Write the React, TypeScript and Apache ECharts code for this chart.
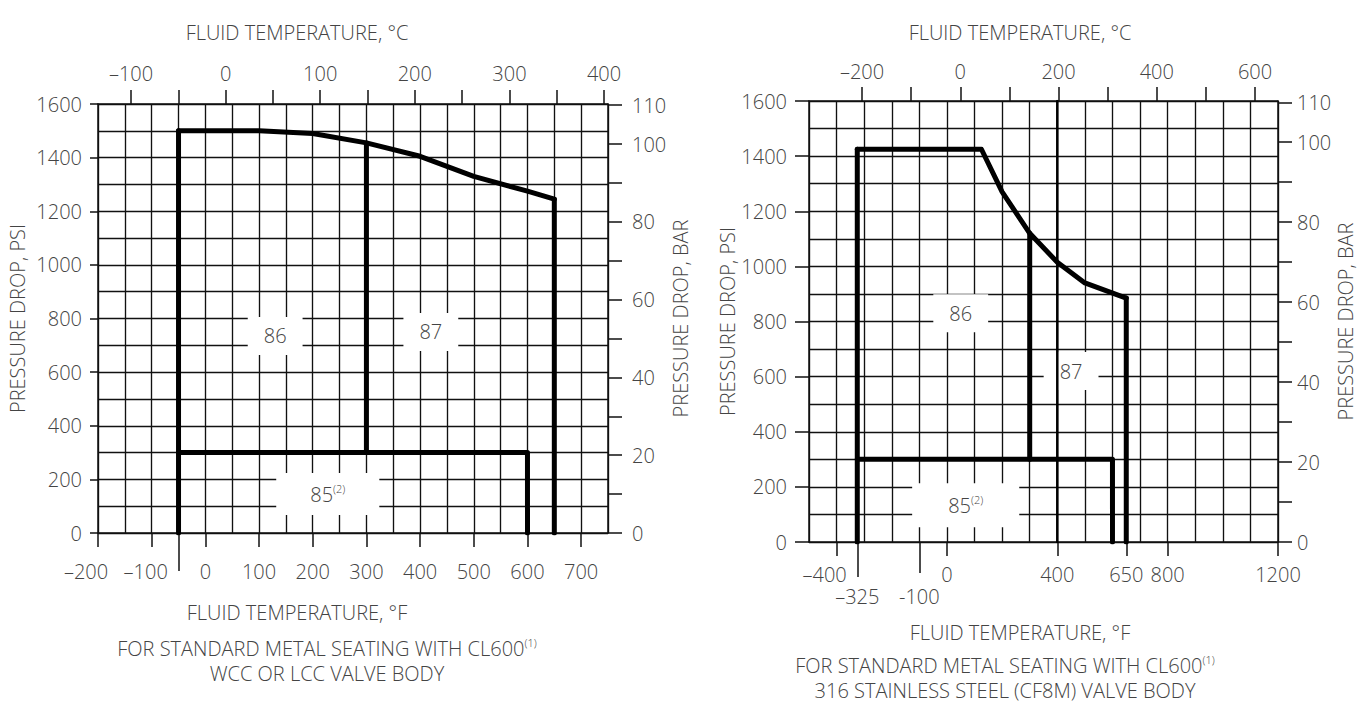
import React, { useEffect, useRef } from 'react';
import * as echarts from 'echarts';

// ---------- shared ----------
const PSI_PER_BAR = 14.5038;
const PSI_MAX = 1600;
const barTicks = [0, 10, 20, 30, 40, 50, 60, 70, 80, 90, 100, 110];
const barLabels = [0, 20, 40, 60, 80, 100, 110];

// ---------- left chart: WCC / LCC body ----------
const wccFMin = -200;
const wccFMax = 750;
const wccCMin = -134.9; // top °C scale as drawn
const wccCMax = 404.2;
const wccFTicks = [-200, -100, 0, 100, 200, 300, 400, 500, 600, 700];
const wccFLongTicks = [-50];
const wccCTicks = [-100, -50, 0, 50, 100, 150, 200, 250, 300, 350, 400];
const wccCLabels = [-100, 0, 100, 200, 300, 400];
const wccCurve = [[-50, 1500], [100, 1500], [200, 1490], [300, 1455], [400, 1405], [500, 1330], [600, 1275], [650, 1245]];
const wccLowLimit = [[-50, 0], [-50, 1500]];
const wccSeatLine = [[-50, 300], [600, 300], [600, 0]];
const wccDivider = [[300, 300], [300, 1455]];
const wccHighLimit = [[650, 1245], [650, 0]];
const wccZones: [string, number, number][] = [['86', 130, 735], ['87', 420, 750], ['85', 228, 145]];

// ---------- right chart: CF8M body ----------
const cf8mFMin = -500;
const cf8mFMax = 1200;
const cf8mCMin = -307.9;
const cf8mCMax = 646.8;
const cf8mFTicks = [-400, 0, 400, 650, 800, 1200];
const cf8mLongTickA = [-325];
const cf8mLongTickB = [-100];
const cf8mCTicks = [-200, -100, 0, 100, 200, 300, 400, 500, 600];
const cf8mCLabels = [-200, 0, 200, 400, 600];
const cf8mCurve = [[-325, 1425], [125, 1425], [200, 1270], [300, 1120], [400, 1015], [500, 940], [650, 885]];
const cf8mLowLimit = [[-325, 0], [-325, 1425]];
const cf8mSeatLine = [[-325, 300], [600, 300], [600, 0]];
const cf8mDivider = [[300, 300], [300, 1120]];
const cf8mHighLimit = [[650, 885], [650, 0]];
const cf8mMarker = [[400, 0], [400, 1600]];
const cf8mZones: [string, number, number][] = [['86', 50, 830], ['87', 450, 620], ['85', 68, 133]];

const FONT = '"Open Sans", "Noto Sans", sans-serif';
const TEXT = '#444';
const LINE = '#111';
const FS = 20;

const dash = (v: number) => (v < 0 ? '\u2013' + Math.abs(v) : String(v));
const hyphen = (v: number) => String(v);
// negative bottom labels sit a little left of their ticks in the drawing
const shifted = (v: number) => (v <= -200 ? '{l|' + dash(v) + '}' : v < 0 ? '{m|' + dash(v) + '}' : dash(v));

function buildOption() {
  const axisText = { color: TEXT, fontFamily: FONT, fontSize: FS, fontWeight: 300 };
  const nameText = { color: TEXT, fontFamily: FONT, fontSize: FS, fontWeight: 300 };
  const shiftRich = {
    l: { ...axisText, padding: [0, 24, 0, 0] },
    m: { ...axisText, padding: [0, 12, 0, 0] },
  };

  const gridX = (gridIndex: number, min: number, max: number, interval: number) => ({
    type: 'value', gridIndex, position: 'bottom', min, max, interval,
    axisLine: { show: true, onZero: false, lineStyle: { color: LINE, width: 1.5 } },
    axisTick: { show: false }, axisLabel: { show: false },
    splitLine: { show: true, lineStyle: { color: LINE, width: 1.35 } },
  });
  const tickX = (gridIndex: number, min: number, max: number, ticks: number[], length: number, withLabels = false, formatter: any = dash, margin = 0) => ({
    type: 'value', gridIndex, position: 'bottom', min, max,
    axisLine: { show: false, onZero: false },
    splitLine: { show: false },
    axisTick: { show: true, length, customValues: ticks, lineStyle: { color: LINE, width: 1.5 } },
    axisLabel: withLabels
      ? { show: true, customValues: ticks, formatter, margin, showMinLabel: true, showMaxLabel: true, hideOverlap: false, ...axisText, rich: shiftRich }
      : { show: false },
  });
  const topX = (gridIndex: number, min: number, max: number, ticks: number[], labels: number[], margin: number) => ({
    type: 'value', gridIndex, position: 'top', min, max,
    axisLine: { show: true, onZero: false, lineStyle: { color: LINE, width: 1.5 } },
    splitLine: { show: false },
    axisTick: { show: true, length: 14, customValues: ticks, lineStyle: { color: LINE, width: 1.5 } },
    axisLabel: { show: true, customValues: labels, formatter: dash, margin, showMinLabel: true, showMaxLabel: true, ...axisText },
  });
  const gridY = (gridIndex: number) => ({
    type: 'value', gridIndex, position: 'left', min: 0, max: PSI_MAX, interval: 100,
    axisLine: { show: true, onZero: false, lineStyle: { color: LINE, width: 1.5 } },
    axisTick: { show: false }, axisLabel: { show: false },
    splitLine: { show: true, lineStyle: { color: LINE, width: 1.35 } },
  });
  const psiY = (gridIndex: number, tickLen: number, margin: number, nameGap: number) => ({
    type: 'value', gridIndex, position: 'left', min: 0, max: PSI_MAX, interval: 200,
    axisLine: { show: false, onZero: false },
    splitLine: { show: false },
    axisTick: { show: true, length: tickLen, lineStyle: { color: LINE, width: 1.5 } },
    axisLabel: { show: true, margin, formatter: (v: number) => String(v), ...axisText },
    name: 'PRESSURE DROP, PSI', nameLocation: 'middle', nameRotate: 90, nameGap, nameTextStyle: nameText,
  });
  const barY = (gridIndex: number, margin: number, nameGap: number) => ({
    type: 'value', gridIndex, position: 'right', min: 0, max: PSI_MAX / PSI_PER_BAR,
    axisLine: { show: true, onZero: false, lineStyle: { color: LINE, width: 1.5 } },
    splitLine: { show: false },
    axisTick: { show: true, length: 14, customValues: barTicks, lineStyle: { color: LINE, width: 1.5 } },
    axisLabel: { show: true, customValues: barLabels, margin, showMinLabel: true, showMaxLabel: true, ...axisText },
    name: 'PRESSURE DROP, BAR', nameLocation: 'middle', nameRotate: 90, nameGap, nameTextStyle: nameText,
  });

  const thick = (xAxisIndex: number, yAxisIndex: number, data: number[][], width = 5) => ({
    type: 'line', xAxisIndex, yAxisIndex, data, showSymbol: false, symbol: 'none', z: 5,
    lineStyle: { color: '#000', width, cap: 'round', join: 'round' },
    silent: true,
  });

  const zones = (xAxisIndex: number, yAxisIndex: number, list: [string, number, number][], small: number[], big: number[]) => ({
    type: 'scatter', xAxisIndex, yAxisIndex, symbolSize: 1, z: 3, silent: true,
    itemStyle: { color: '#fff', opacity: 1 },
    data: list.map(([name, x, y]) => ({
      name, value: [x, y],
      label: { padding: name === '85' ? big : small },
    })),
    label: {
      show: true, position: 'inside', backgroundColor: '#fff', opacity: 1,
      formatter: (p: any) => (p.name === '85' ? '{t|85}{s|(2)}' : '{t|' + p.name + '}'),
      rich: {
        t: { fontSize: FS, lineHeight: 22, color: TEXT, fontFamily: FONT, fontWeight: 300 },
        s: { fontSize: 11, lineHeight: 13, color: TEXT, fontFamily: FONT, fontWeight: 300, verticalAlign: 'top' },
      },
    },
  });

  const gText = (x: number, y: number, text: string) => ({
    type: 'text', x, y, silent: true,
    style: { text, fill: TEXT, font: `300 ${FS}px ${FONT}`, textAlign: 'center', textVerticalAlign: 'middle' },
  });
  const gRich = (x: number, y: number, text: string, sup: string) => ({
    type: 'text', x, y, silent: true,
    style: {
      text: `{a|${text}}{s|${sup}}`, textAlign: 'center', textVerticalAlign: 'middle',
      rich: {
        a: { fontSize: FS, lineHeight: 22, fontFamily: FONT, fontWeight: 300, fill: TEXT, color: TEXT },
        s: { fontSize: 11, lineHeight: 13, fontFamily: FONT, fontWeight: 300, fill: TEXT, color: TEXT, verticalAlign: 'top' },
      },
    },
  });

  return {
    animation: false,
    backgroundColor: '#fff',
    grid: [
      { left: 98, top: 104, width: 510, height: 429 },
      { left: 809, top: 101, width: 469, height: 441 },
    ],
    xAxis: [
      gridX(0, wccFMin, wccFMax, 50),
      tickX(0, wccFMin, wccFMax, wccFTicks, 14, true, shifted, 28),
      tickX(0, wccFMin, wccFMax, wccFLongTicks, 38),
      topX(0, wccCMin, wccCMax, wccCTicks, wccCLabels, 21),
      gridX(1, cf8mFMin, cf8mFMax, 100),
      tickX(1, cf8mFMin, cf8mFMax, cf8mFTicks, 14, true, shifted, 22),
      tickX(1, cf8mFMin, cf8mFMax, cf8mLongTickA, 35, true, dash, 44),
      tickX(1, cf8mFMin, cf8mFMax, cf8mLongTickB, 31, true, hyphen, 44),
      topX(1, cf8mCMin, cf8mCMax, cf8mCTicks, cf8mCLabels, 20),
    ],
    yAxis: [
      gridY(0),
      psiY(0, 8, 16, 71),
      barY(0, 24, 50),
      gridY(1),
      psiY(1, 14, 22, 60),
      barY(1, 19, 53),
    ],
    series: [
      thick(0, 0, wccLowLimit),
      thick(0, 0, wccSeatLine),
      thick(0, 0, wccDivider),
      thick(0, 0, wccHighLimit),
      thick(0, 0, wccCurve),
      zones(0, 0, wccZones, [8, 16], [10, 34]),
      thick(4, 3, cf8mMarker, 2.5),
      thick(4, 3, cf8mLowLimit),
      thick(4, 3, cf8mSeatLine),
      thick(4, 3, cf8mDivider),
      thick(4, 3, cf8mHighLimit),
      thick(4, 3, cf8mCurve),
      zones(4, 3, cf8mZones, [8, 16], [11, 36]),
    ],
    graphic: [
      gText(297, 32, 'FLUID TEMPERATURE, \u00B0C'),
      gText(297, 612, 'FLUID TEMPERATURE, \u00B0F'),
      gRich(327, 648, 'FOR STANDARD METAL SEATING WITH CL600', '(1)'),
      gText(327, 673, 'WCC OR LCC VALVE BODY'),
      gText(1020, 32, 'FLUID TEMPERATURE, \u00B0C'),
      gText(1020, 632, 'FLUID TEMPERATURE, \u00B0F'),
      gRich(1005, 665, 'FOR STANDARD METAL SEATING WITH CL600', '(1)'),
      gText(1005, 690, '316 STAINLESS STEEL (CF8M) VALVE BODY'),
    ],
  };
}

export default function App() {
  const ref = useRef<HTMLDivElement>(null);
  useEffect(() => {
    document.body.style.margin = '0';
    if (!ref.current) return;
    const chart = echarts.init(ref.current, undefined, { renderer: 'svg' });
    chart.setOption(buildOption() as any);
    return () => chart.dispose();
  }, []);
  return <div ref={ref} style={{ width: 1359, height: 704 }} />;
}
